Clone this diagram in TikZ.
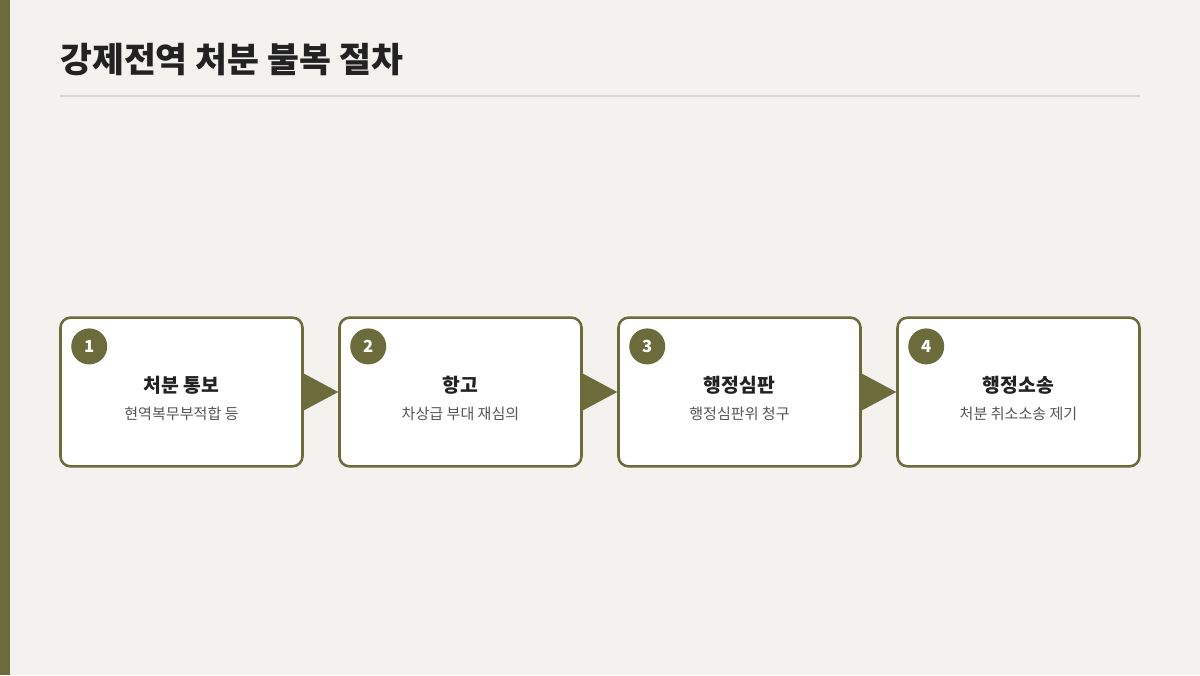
\documentclass[tikz,border=0pt]{standalone}
\usepackage{fontspec}
\setmainfont{Noto Sans CJK KR}
\usetikzlibrary{calc}
\definecolor{olivec}{HTML}{6B6B3B}
\definecolor{bgc}{HTML}{F4F2EE}
\definecolor{titlec}{HTML}{222222}
\definecolor{subc}{HTML}{555555}
\definecolor{rulec}{HTML}{D8D7D0}
\tikzset{
  stepbox/.style={draw=olivec, line width=1.9pt, fill=white, rounded corners=7.5pt,
    minimum width=181.5pt, minimum height=111.5pt, inner sep=0pt},
  numdot/.style={circle, fill=olivec, minimum size=27pt, inner sep=0pt, text=white,
    font=\fontsize{12.5}{14}\selectfont\bfseries},
  boxtitle/.style={font=\fontsize{14.5}{17}\selectfont\bfseries, text=titlec, inner sep=0pt},
  boxsub/.style={font=\fontsize{11.3}{13}\selectfont, text=subc, inner sep=0pt},
  flowarrow/.style={fill=olivec},
}
\begin{document}
\begin{tikzpicture}[x=0.75pt,y=-0.75pt]
\useasboundingbox (0,0) rectangle (1200,675);
\fill[bgc] (0,0) rectangle (1200,675);
\fill[olivec] (0,0) rectangle (10,675);
\node[anchor=base west, inner sep=0pt, font=\fontsize{26}{30}\selectfont\bfseries, text=titlec] (title) at (60,72) {강제전역 처분 불복 절차};
\coordinate (ruleA) at (60,96);
\coordinate (ruleB) at (1140,96);
\draw[rulec, line width=1.5pt] (ruleA) -- (ruleB);

\node[stepbox] (b1) at (181.5,392) {};
\node[stepbox] (b2) at (460.5,392) {};
\node[stepbox] (b3) at (739.5,392) {};
\node[stepbox] (b4) at (1018.5,392) {};

\foreach \i/\t/\s in {1/처분 통보/현역복무부적합 등, 2/항고/차상급 부대 재심의, 3/행정심판/행정심판위 청구, 4/행정소송/처분 취소소송 제기}{
  \node[numdot] (n\i) at ($(b\i.north west)+(30,30)$) {\i};
  \node[boxtitle, anchor=base] (t\i) at ($(b\i.center)+(0,0)$) {\t};
  \node[boxsub, anchor=base] (s\i) at ($(b\i.center)+(0,27)$) {\s};
}

\foreach \a/\b in {b1/b2, b2/b3, b3/b4}{
  \fill[flowarrow] ($(\a.east)+(-1,-19)$) -- (\b.west) -- ($(\a.east)+(-1,19)$) -- cycle;
}
\end{tikzpicture}
\end{document}
